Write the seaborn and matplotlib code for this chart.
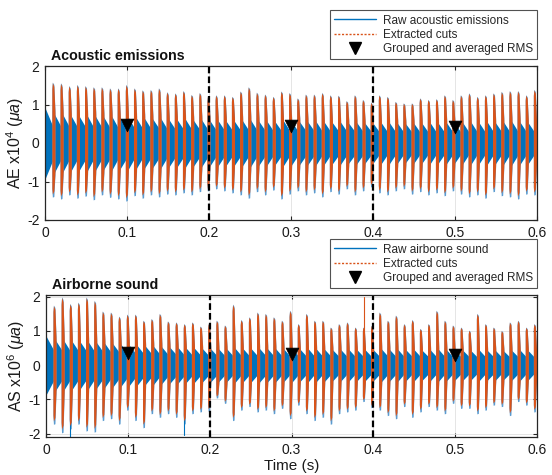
import numpy as np
import pandas as pd
import matplotlib
matplotlib.use("Agg")
import matplotlib.pyplot as plt
from matplotlib.lines import Line2D
import seaborn as sns

# ---------------- data ----------------
# burst timing (one cutting burst per tool pass)
first_onset = 0.009
burst_period = 0.00995
n_bursts = 60

# Acoustic emissions: peak of each extracted cut (x1e4)
ae_cut_pos = [1.57, 1.55, 1.48, 1.51, 1.48, 1.45, 1.45, 1.42, 1.42, 1.51,
              1.42, 1.37, 1.38, 1.42, 1.32, 1.29, 1.35, 1.25, 1.30, 1.20,
              1.24, 1.24, 1.20, 1.34, 1.45, 1.31, 1.26, 1.20, 1.34, 1.30,
              1.16, 1.26, 1.26, 1.30, 1.24, 1.23, 1.09, 1.24, 1.12, 1.05,
              1.24, 1.20, 1.07, 1.03, 1.03, 1.16, 1.12, 1.14, 1.24, 1.12,
              1.24, 1.29, 1.20, 1.24, 1.29, 1.33, 1.35, 1.35, 1.24, 1.38]
ae_cut_neg = [-1.35, -1.40, -1.30, -1.38, -1.33, -1.42, -1.30, -1.36, -1.40, -1.45,
              -1.32, -1.38, -1.30, -1.35, -1.28, -1.30, -1.25, -1.30, -1.22, -1.20,
              -1.15, -1.20, -1.25, -1.30, -1.38, -1.22, -1.30, -1.18, -1.40, -1.28,
              -1.20, -1.30, -1.25, -1.35, -1.22, -1.28, -1.15, -1.30, -1.20, -1.10,
              -1.25, -1.30, -1.20, -1.15, -1.28, -1.22, -1.30, -1.25, -1.32, -1.20,
              -1.28, -1.35, -1.30, -1.38, -1.22, -1.32, -1.35, -1.40, -1.28, -1.30]
# raw signal envelope right after each cut and just before the next one
ae_raw_head = [0.85, 0.85, 0.82, 0.80, 0.82, 0.80, 0.78, 0.80, 0.76, 0.78,
               0.75, 0.74, 0.72, 0.74, 0.70, 0.70, 0.72, 0.68, 0.70, 0.68,
               0.68, 0.66, 0.66, 0.68, 0.70, 0.66, 0.66, 0.64, 0.68, 0.66,
               0.64, 0.64, 0.66, 0.64, 0.62, 0.64, 0.60, 0.62, 0.60, 0.60,
               0.62, 0.62, 0.60, 0.58, 0.60, 0.60, 0.62, 0.60, 0.62, 0.60,
               0.62, 0.64, 0.62, 0.64, 0.62, 0.64, 0.66, 0.64, 0.62, 0.64]
ae_raw_tail = [0.45, 0.45, 0.44, 0.44, 0.43, 0.43, 0.42, 0.42, 0.42, 0.41,
               0.40, 0.40, 0.40, 0.39, 0.38, 0.38, 0.38, 0.37, 0.37, 0.36,
               0.36, 0.35, 0.35, 0.35, 0.36, 0.35, 0.34, 0.34, 0.35, 0.34,
               0.34, 0.34, 0.33, 0.33, 0.33, 0.33, 0.32, 0.32, 0.32, 0.31,
               0.31, 0.31, 0.30, 0.30, 0.30, 0.30, 0.30, 0.30, 0.31, 0.30,
               0.30, 0.31, 0.30, 0.31, 0.31, 0.31, 0.32, 0.32, 0.31, 0.32]
ae_raw_lead = [0.92, 0.46]
ae_rms_t = [0.1, 0.3, 0.5]
ae_rms = [0.48, 0.43, 0.41]

# Airborne sound: peak of each extracted cut (x1e6)
as_cut_pos = [1.74, 1.98, 1.79, 1.83, 1.98, 1.88, 1.57, 1.54, 1.42, 1.48,
              1.48, 1.30, 1.35, 1.50, 1.28, 1.25, 1.20, 1.25, 1.13, 1.20,
              1.30, 1.16, 1.77, 1.32, 1.40, 1.54, 1.50, 1.40, 1.30, 1.59,
              1.20, 1.50, 1.30, 1.30, 1.10, 1.20, 1.25, 1.10, 1.10, 1.15,
              1.54, 1.30, 1.45, 1.20, 1.32, 1.06, 1.20, 1.59, 1.30, 1.16,
              1.10, 1.01, 1.50, 1.20, 1.10, 1.00, 1.25, 1.30, 1.10, 1.20]
as_cut_neg = [-1.66, -1.90, -1.80, -1.66, -1.85, -1.88, -1.56, -1.51, -1.66, -1.27,
              -1.56, -1.76, -1.37, -1.47, -1.37, -1.47, -1.66, -1.37, -1.32, -1.30,
              -0.93, -1.08, -1.56, -1.27, -1.17, -1.32, -1.27, -1.37, -1.22, -1.51,
              -1.13, -1.37, -1.56, -1.47, -1.66, -1.37, -1.32, -1.27, -1.03, -1.20,
              -1.27, -1.42, -1.51, -1.17, -1.47, -1.32, -1.17, -1.27, -1.37, -1.08,
              -1.22, -1.22, -1.37, -1.27, -1.13, -1.17, -1.42, -1.03, -1.13, -1.32]
as_raw_head = [0.82, 0.82, 0.80, 0.78, 0.78, 0.76, 0.74, 0.72, 0.70, 0.68,
               0.66, 0.64, 0.64, 0.62, 0.60, 0.60, 0.58, 0.58, 0.56, 0.56,
               0.55, 0.55, 0.58, 0.56, 0.56, 0.57, 0.56, 0.56, 0.55, 0.57,
               0.54, 0.56, 0.55, 0.54, 0.52, 0.53, 0.53, 0.52, 0.52, 0.52,
               0.55, 0.53, 0.54, 0.52, 0.53, 0.50, 0.52, 0.54, 0.52, 0.50,
               0.50, 0.49, 0.52, 0.50, 0.50, 0.48, 0.50, 0.52, 0.50, 0.50]
as_raw_tail = [0.45, 0.44, 0.44, 0.43, 0.42, 0.42, 0.40, 0.40, 0.38, 0.37,
               0.36, 0.35, 0.34, 0.33, 0.33, 0.32, 0.31, 0.31, 0.30, 0.30,
               0.29, 0.29, 0.30, 0.29, 0.29, 0.30, 0.29, 0.29, 0.28, 0.29,
               0.28, 0.28, 0.28, 0.28, 0.27, 0.27, 0.27, 0.27, 0.27, 0.27,
               0.28, 0.27, 0.27, 0.27, 0.27, 0.26, 0.26, 0.27, 0.26, 0.26,
               0.26, 0.25, 0.26, 0.26, 0.25, 0.25, 0.26, 0.26, 0.25, 0.26]
as_raw_lead = [0.85, 0.45]
# isolated raw spikes (time, amplitude)
as_spike_t = [0.029, 0.168, 0.389]
as_spike_v = [-2.15, -2.05, 1.98]
as_rms_t = [0.1, 0.3, 0.5]
as_rms = [0.36, 0.34, 0.30]

section_bounds = [0.2, 0.4]
x_ticks = [0, 0.1, 0.2, 0.3, 0.4, 0.5, 0.6]
y_ticks = [-2, -1, 0, 1, 2]

# ---------------- style ----------------
BLUE = "#0072BD"
ORANGE = "#D95319"
FRAME = "#262626"

sns.set_theme(style="white")
plt.rcParams["font.family"] = ["Liberation Sans", "DejaVu Sans"]
plt.rcParams["mathtext.fontset"] = "custom"
plt.rcParams["mathtext.rm"] = "Liberation Sans"
plt.rcParams["mathtext.it"] = "Liberation Sans:italic"
plt.rcParams["axes.unicode_minus"] = False


def draw_signal(ax, pos, neg, head, tail, lead, spikes_t=(), spikes_v=()):
    onsets = first_onset + burst_period * np.arange(n_bursts)
    # raw signal envelope (sawtooth: high after each cut, decaying to the next)
    xs = [0.0, onsets[0] - 1e-5]
    ys = list(lead)
    for i, t0 in enumerate(onsets):
        t1 = min(t0 + burst_period, 0.6)
        xs += [t0, t1 - 1e-5]
        ys += [head[i], tail[i]]
    xs = np.array(xs)
    ys = np.array(ys)
    ax.fill_between(xs, -ys * 1.02, ys, color=BLUE, lw=0, zorder=2)
    # extracted cuts: narrow bars at the start of every burst
    w0, w1, w2 = 0.0006, 0.0024, 0.0038
    for i, t0 in enumerate(onsets):
        bx = [t0, t0 + w0, t0 + w1, t0 + w2, t0 + w2, t0 + w1, t0 + w0, t0]
        # raw samples peeking past the dotted cut line
        by = [pos[i] * 0.9, pos[i], pos[i] * 0.96, head[i],
              -head[i], neg[i] * 1.04, neg[i] * 1.05, neg[i] * 0.9]
        ax.fill(bx, by, color="#5A9BD0", lw=0, zorder=2.5)
        by2 = [pos[i] * 0.88, pos[i] * 0.99, pos[i] * 0.93, head[i] * 0.9,
               -head[i] * 0.9, neg[i] * 0.93, neg[i] * 0.99, neg[i] * 0.88]
        ax.fill(bx, by2, color=ORANGE, lw=0, zorder=3)
    for t, v in zip(spikes_t, spikes_v):
        ax.plot([t, t], [0, v], color=BLUE if v < 0 else ORANGE, lw=0.8, zorder=2.6)


def style_axes(ax, ylim):
    ax.set_xlim(0, 0.6)
    ax.set_ylim(*ylim)
    ax.set_xticks(x_ticks)
    ax.set_xticklabels([f"{v:g}" for v in x_ticks])
    ax.set_yticks(y_ticks)
    ax.grid(True, color="#E0E0E0", lw=0.6, zorder=0)
    ax.set_axisbelow(True)
    for s in ax.spines.values():
        s.set_color(FRAME)
        s.set_linewidth(0.9)
        s.set_visible(True)
        s.set_zorder(6)
    ax.tick_params(direction="in", length=3, width=0.8, color=FRAME,
                   labelsize=10, labelcolor="#1a1a1a", top=True, right=True,
                   bottom=True, left=True, pad=4)
    for xb in section_bounds:
        ax.axvline(xb, color="black", lw=1.6, ls=(0, (3.0, 1.4)), zorder=5)


fig = plt.figure(figsize=(5.52, 4.75), dpi=100)
ax1 = fig.add_axes([0.0815, 1 - 220 / 475, 0.8915, 154 / 475])
ax2 = fig.add_axes([0.0835, 1 - 437 / 475, 0.8895, 142 / 475])

panels = [
    (ax1, (-2, 2), ae_cut_pos, ae_cut_neg, ae_raw_head, ae_raw_tail, ae_raw_lead,
     (), (), ae_rms_t, ae_rms, "Acoustic emissions", r"AE x10$^4$ ($\mu a$)",
     "Raw acoustic emissions"),
    (ax2, (-2.1, 2.05), as_cut_pos, as_cut_neg, as_raw_head, as_raw_tail,
     as_raw_lead, as_spike_t, as_spike_v, as_rms_t, as_rms, "Airborne sound",
     r"AS x10$^6$ ($\mu a$)", "Raw airborne sound"),
]

for (ax, ylim, pos, neg, head, tail, lead, st, sv, rt, rv, title, ylab,
     rawlab) in panels:
    style_axes(ax, ylim)
    draw_signal(ax, pos, neg, head, tail, lead, st, sv)
    rms_df = pd.DataFrame({"t": rt, "rms": rv})
    sns.scatterplot(data=rms_df, x="t", y="rms", marker="v", s=85,
                    color="black", edgecolor="black", linewidth=0.5,
                    ax=ax, zorder=7, legend=False)
    ax.set_xlabel("")
    ax.set_ylabel(ylab, fontsize=11.5, color="#1a1a1a")
    ax.yaxis.set_label_coords(-0.038, 0.5)
    ax.text(0.012, 1.022, title, transform=ax.transAxes, fontsize=10.3,
            fontweight="bold", ha="left", va="bottom", color="#111111")
    handles = [
        Line2D([], [], color=BLUE, lw=1.0),
        Line2D([], [], color=ORANGE, lw=1.0, ls=(0, (1.5, 1.2))),
        Line2D([], [], color="black", marker="v", ls="none", markersize=8),
    ]
    labels = [rawlab, "Extracted cuts", "Grouped and averaged RMS"]
    gap = 7 / (ax.get_position().height * 475)
    leg = ax.legend(handles, labels, loc="lower right",
                    bbox_to_anchor=(1.0, 1.0 + gap), fontsize=8.5,
                    frameon=True, fancybox=False, handlelength=3.5,
                    handletextpad=0.6, borderpad=0.35, labelspacing=0.18,
                    borderaxespad=0.0)
    leg.get_frame().set_edgecolor(FRAME)
    leg.get_frame().set_linewidth(0.8)
    leg.set_zorder(10)

ax2.set_xlabel("Time (s)", fontsize=11, color="#1a1a1a", labelpad=2)

fig.savefig("out.png", dpi=100)
